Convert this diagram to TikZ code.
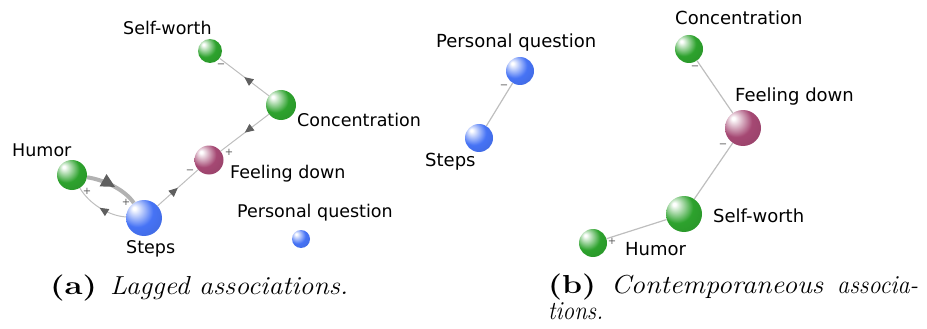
\documentclass[tikz,border=0pt]{standalone}
\usepackage{fontspec}
\usepackage{graphicx}
\newfontfamily\labfont{DejaVu Sans}
\usetikzlibrary{arrows.meta,decorations.markings}
\definecolor{gmain}{RGB}{45,162,45}
\definecolor{mmain}{RGB}{165,72,115}
\definecolor{bmain}{RGB}{70,115,245}
\definecolor{edgegray}{RGB}{190,190,190}
\definecolor{thickgray}{RGB}{178,178,178}
\definecolor{tipgray}{RGB}{95,95,95}
\newcommand\mksphere[2]{\pgfdeclareradialshading{#1}{\pgfpoint{-14bp}{14bp}}{%
  color(0bp)=(white); color(2bp)=(white); color(22bp)=(#2);
  color(45bp)=(#2!88!black); color(66bp)=(#2!68!black)}}
\mksphere{sphgreen}{gmain}
\mksphere{sphmaroon}{mmain}
\mksphere{sphblue}{bmain}
\newcommand\capbox[2]{\resizebox{#1}{\height}{\fontsize{26}{30}\selectfont #2}}
\tikzset{
  ball/.style={circle, inner sep=0pt, draw=none, shade, shading=#1},
  labl/.style={font=\labfont\fontsize{17.5}{20}\selectfont, anchor=base west, inner sep=0pt},
  labr/.style={font=\labfont\fontsize{18}{21}\selectfont, anchor=base west, inner sep=0pt},
  sign/.style={font=\labfont\fontsize{10}{12}\selectfont, text=black!65, inner sep=0pt},
  edge/.style={draw=edgegray, line width=1pt},
  thickedge/.style={draw=thickgray, line width=4pt},
  midarrow/.style={postaction={decorate, decoration={markings,
      mark=at position 0.5 with {\arrow[tipgray]{Triangle[length=9pt,width=8pt]}}}}},
  bigarrow/.style={postaction={decorate, decoration={markings,
      mark=at position 0.55 with {\arrow[tipgray]{Triangle[length=14pt,width=13pt]}}}}},
  capt/.style={anchor=base west, inner sep=0pt},
}
\begin{document}
\begin{tikzpicture}[x=1pt,y=-1pt]
\useasboundingbox (0,0) rectangle (927,329);

% ---------- (a) lagged ----------
\node[ball=sphgreen, minimum size=24pt] (sw1) at (210,51) {};
\node[ball=sphgreen, minimum size=30pt] (conc1) at (281,105) {};
\node[ball=sphmaroon, minimum size=29pt] (fd1) at (209,160) {};
\node[ball=sphgreen, minimum size=30pt] (hum1) at (72,175) {};
\node[ball=sphblue, minimum size=36pt] (steps1) at (144,218) {};
\node[ball=sphblue, minimum size=18pt] (pq1) at (301,239) {};

\node[labl] (sw1l) at (123,35) {Self-worth};
\node[labl] (conc1l) at (297,126) {Concentration};
\node[labl] (fd1l) at (230,178) {Feeling down};
\node[labl] (hum1l) at (12,156) {Humor};
\node[labl] (steps1l) at (126,253) {Steps};
\node[labl] (pq1l) at (237,217) {Personal question};

\draw[edge, midarrow] (conc1) -- (sw1);
\draw[edge, midarrow] (conc1) -- (fd1);
\draw[edge, midarrow] (steps1) -- (fd1);
\draw[thickedge, bigarrow] (hum1) .. controls (105,180) and (125,190) .. (steps1);
\draw[edge, midarrow] (steps1) .. controls (110,216) and (90,205) .. (hum1);

\node[sign] (s1) at (221,66) {−};
\node[sign] (s2) at (229,152) {+};
\node[sign] (s3) at (190,172) {−};
\node[sign] (s4) at (126,202) {+};
\node[sign] (s5) at (87,191) {+};

% ---------- (b) contemporaneous ----------
\node[ball=sphblue, minimum size=28pt] (pq2) at (520,71) {};
\node[ball=sphblue, minimum size=28pt] (steps2) at (479,138) {};
\node[ball=sphgreen, minimum size=28pt] (conc2) at (689,49) {};
\node[ball=sphmaroon, minimum size=36pt] (fd2) at (743,128) {};
\node[ball=sphgreen, minimum size=36pt] (sw2) at (684,214) {};
\node[ball=sphgreen, minimum size=28pt] (hum2) at (593,243) {};

\draw[edge, line width=1.2pt] (pq2) -- (steps2);
\draw[edge, line width=1.2pt] (conc2) -- (fd2);
\draw[edge, line width=1.2pt] (fd2) -- (sw2);
\draw[edge, line width=1.2pt] (sw2) -- (hum2);

\node[labr] (pq2l) at (436,48) {Personal question};
\node[labr] (steps2l) at (425,166) {Steps};
\node[labr] (conc2l) at (675,25) {Concentration};
\node[labr] (fd2l) at (735,102) {Feeling down};
\node[labr] (sw2l) at (713,222) {Self-worth};
\node[labr] (hum2l) at (625,255) {Humor};

\node[sign] (t1) at (504,87) {−};
\node[sign] (t2) at (695,68) {−};
\node[sign] (t3) at (723,146) {−};
\node[sign] (t4) at (612,241) {+};

% ---------- captions ----------
\node[capt] (capa1) at (50,294) {\capbox{47pt}{\bfseries (a)}};
\node[capt] (capa2) at (110,294) {\capbox{238pt}{\itshape Lagged associations.}};
\node[capt] (capb1) at (548,293) {\capbox{48pt}{\bfseries (b)}};
\node[capt] (capb2) at (611,293) {\capbox{212pt}{\itshape Contemporaneous}};
\node[capt] (capb3) at (837,293) {\capbox{81pt}{\itshape associa-}};
\node[capt] (capb4) at (548,319) {\capbox{55pt}{\itshape tions.}};
\end{tikzpicture}
\end{document}
